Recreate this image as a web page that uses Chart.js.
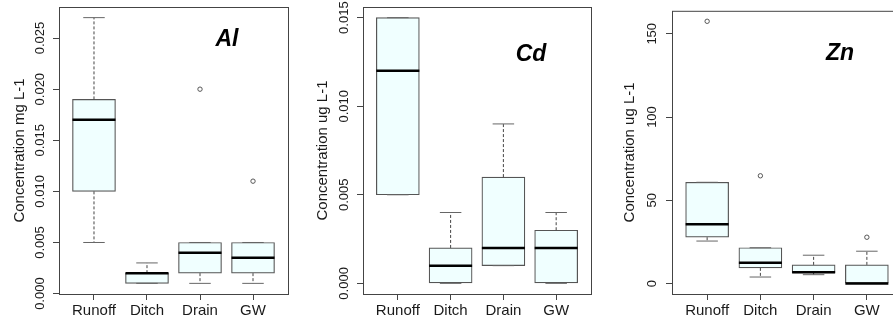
<!DOCTYPE html>
<html>
<head>
<meta charset="utf-8">
<script src="https://cdn.jsdelivr.net/npm/chart.js@4.4.1/dist/chart.umd.min.js"></script>
<style>
    html, body { margin: 0; padding: 0; width: 893px; height: 325px; overflow: hidden; background: #fff; }
    .panel { position: absolute; top: 0; height: 325px; }
</style>
</head>
<body>
<div class="panel" style="left:0;width:300px"><canvas id="al-chart"></canvas></div>
<div class="panel" style="left:304px;width:296px"><canvas id="cd-chart"></canvas></div>
<div class="panel" style="left:613px;width:300px"><canvas id="zn-chart"></canvas></div>
<script>
const sites = ['Runoff', 'Ditch', 'Drain', 'GW'];

// Al (mg L-1): whisker ends, hinges, medians, outliers per site
const alMin = [0.005, 0.001, 0.001, 0.001];
const alQ1 = [0.010, 0.001, 0.002, 0.002];
const alMed = [0.017, 0.002, 0.004, 0.0035];
const alQ3 = [0.019, 0.002, 0.005, 0.005];
const alMax = [0.027, 0.003, 0.005, 0.005];
const alOut = [[], [], [0.020], [0.011]];
const alTicks = [0, 0.005, 0.010, 0.015, 0.020, 0.025];

// Cd (ug L-1)
const cdMin = [0.005, 0, 0.001, 0];
const cdQ1 = [0.005, 0, 0.001, 0];
const cdMed = [0.012, 0.001, 0.002, 0.002];
const cdQ3 = [0.015, 0.002, 0.006, 0.003];
const cdMax = [0.015, 0.004, 0.009, 0.004];
const cdOut = [[], [], [], []];
const cdTicks = [0, 0.005, 0.010, 0.015];

// Zn (ug L-1)
const znMin = [25.5, 3.9, 5.3, 0];
const znQ1 = [27.8, 9.4, 6.3, 0];
const znMed = [35.6, 12.5, 6.8, 0];
const znQ3 = [60.8, 21.5, 11.2, 11.2];
const znMax = [60.8, 21.5, 17.0, 19.4];
const znOut = [[157.5], [64.7], [], [27.8]];
const znTicks = [0, 50, 100, 150];

const FONT = '"Liberation Sans", Arial, sans-serif';
const BOX_W = 43;

// whiskers, caps, medians, frame and element name
const boxExtras = {
    id: 'boxExtras',
    afterDatasetsDraw(chart, args, opts) {
        const { ctx, chartArea: area, scales: { x, y } } = chart;
        const s = opts.stats;
        const line = (x1, y1, x2, y2) => {
            ctx.beginPath();
            ctx.moveTo(x1, y1);
            ctx.lineTo(x2, y2);
            ctx.stroke();
        };
        ctx.save();
        sites.forEach((name, i) => {
            const px = x.getPixelForValue(i + 1);
            const yMin = y.getPixelForValue(s.min[i]);
            const yQ1 = y.getPixelForValue(s.q1[i]);
            const yQ3 = y.getPixelForValue(s.q3[i]);
            const yMax = y.getPixelForValue(s.max[i]);
            const yMed = y.getPixelForValue(s.med[i]);

            ctx.strokeStyle = '#444';
            ctx.lineWidth = 1;
            ctx.setLineDash([3, 2]);
            line(px, yQ3, px, yMax);
            line(px, yQ1, px, yMin);
            ctx.setLineDash([]);
            ctx.strokeStyle = '#666';
            line(px - BOX_W / 4, yMax, px + BOX_W / 4, yMax);
            line(px - BOX_W / 4, yMin, px + BOX_W / 4, yMin);

            ctx.strokeStyle = '#000';
            ctx.lineWidth = 2.5;
            line(px - BOX_W / 2, yMed, px + BOX_W / 2, yMed);
        });

        ctx.strokeStyle = '#444';
        ctx.lineWidth = 1;
        ctx.strokeRect(area.left + 0.5, area.top + 0.5, area.right - area.left, area.bottom - area.top);

        ctx.fillStyle = '#000';
        ctx.font = 'italic bold 23px ' + FONT;
        ctx.textAlign = 'center';
        ctx.textBaseline = 'middle';
        ctx.fillText(opts.label, area.right - opts.labelDx, area.top + opts.labelDy);
        ctx.restore();
    }
};

function createBoxChart(id, cfg) {
    const ctx = document.getElementById(id);
    if (!ctx) return null;

    // R-style range: data extent plus 4% each side
    const all = cfg.min.concat(cfg.max, cfg.out.flat());
    const lo = Math.min(...all);
    const hi = Math.max(...all);
    const ext = (hi - lo) * 0.04;

    const boxes = sites.map((name, i) => ({ x: i + 1, y: [cfg.q1[i], cfg.q3[i]] }));
    const outliers = [];
    cfg.out.forEach((vals, i) => vals.forEach(v => outliers.push({ x: i + 1, y: v })));

    return new Chart(ctx, {
        type: 'bar',
        data: {
            datasets: [{
                type: 'bar',
                data: boxes,
                backgroundColor: '#F0FFFF',
                borderColor: '#555',
                borderWidth: 1.2,
                borderSkipped: false,
                barThickness: BOX_W
            }, {
                type: 'scatter',
                data: outliers,
                pointRadius: 2.2,
                pointBorderWidth: 1,
                pointBackgroundColor: 'rgba(0,0,0,0)',
                pointBorderColor: '#555'
            }]
        },
        options: {
            responsive: true,
            maintainAspectRatio: false,
            animation: false,
            layout: { padding: { left: 0, top: 7, right: cfg.padRight, bottom: 0 } },
            plugins: {
                legend: { display: false },
                tooltip: { enabled: false },
                boxExtras: {
                    stats: cfg,
                    label: cfg.label,
                    labelDx: cfg.labelDx,
                    labelDy: cfg.labelDy
                }
            },
            scales: {
                x: {
                    type: 'linear',
                    offset: false,
                    min: 0.34,
                    max: sites.length + 0.66,
                    afterBuildTicks: scale => {
                        scale.ticks = sites.map((name, i) => ({ value: i + 1 }));
                    },
                    afterFit: scale => { scale.height = 31; },
                    grid: { offset: false, drawOnChartArea: false, drawTicks: true, tickLength: 6, tickColor: '#444' },
                    border: { display: false },
                    ticks: {
                        autoSkip: false,
                        maxRotation: 0,
                        padding: 2,
                        color: '#1a1a1a',
                        font: { family: FONT, size: 15 },
                        callback: v => sites[v - 1]
                    }
                },
                y: {
                    type: 'linear',
                    min: lo - ext,
                    max: hi + ext,
                    afterBuildTicks: scale => {
                        scale.ticks = cfg.ticks.map(v => ({ value: v }));
                    },
                    afterFit: scale => { scale.width = 59; },
                    grid: { drawOnChartArea: false, drawTicks: true, tickLength: 6, tickColor: '#444' },
                    border: { display: false },
                    ticks: {
                        minRotation: 90,
                        maxRotation: 90,
                        crossAlign: 'center',
                        padding: cfg.tickPad,
                        color: '#1a1a1a',
                        font: { family: FONT, size: 13 },
                        callback: v => v.toFixed(cfg.digits)
                    },
                    title: {
                        display: true,
                        text: cfg.yTitle,
                        color: '#1a1a1a',
                        font: { family: FONT, size: 15 },
                        padding: { top: cfg.titlePad, bottom: 0 }
                    }
                }
            }
        },
        plugins: [boxExtras]
    });
}

window.boxCharts = {
    al: createBoxChart('al-chart', {
        min: alMin, q1: alQ1, med: alMed, q3: alQ3, max: alMax, out: alOut, ticks: alTicks,
        digits: 3, yTitle: 'Concentration mg L-1', label: 'Al',
        padRight: 12, tickPad: -4, titlePad: 11, labelDx: 61, labelDy: 33
    }),
    cd: createBoxChart('cd-chart', {
        min: cdMin, q1: cdQ1, med: cdMed, q3: cdQ3, max: cdMax, out: cdOut, ticks: cdTicks,
        digits: 3, yTitle: 'Concentration ug L-1', label: 'Cd',
        padRight: 9, tickPad: -4, titlePad: 10, labelDx: 60, labelDy: 48
    }),
    zn: createBoxChart('zn-chart', {
        min: znMin, q1: znQ1, med: znMed, q3: znQ3, max: znMax, out: znOut, ticks: znTicks,
        digits: 0, yTitle: 'Concentration ug L-1', label: 'Zn',
        padRight: 11, tickPad: 3, titlePad: 8, labelDx: 62, labelDy: 43
    })
};
</script>
</body>
</html>
